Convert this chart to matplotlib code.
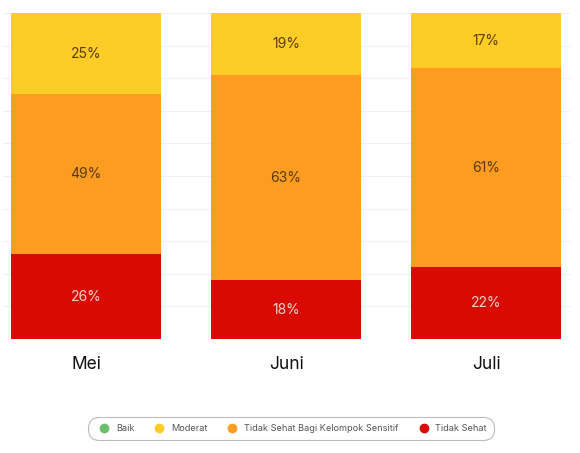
import matplotlib.pyplot as plt
from matplotlib.lines import Line2D
import numpy as np

plt.rcParams['font.family'] = ['Inter', 'DejaVu Sans']

# data
bulan = ['Mei', 'Juni', 'Juli']
kategori = ['Baik', 'Moderat', 'Tidak Sehat Bagi Kelompok Sensitif', 'Tidak Sehat']
baik = [0, 0, 0]
moderat = [25, 19, 17]
sensitif = [49, 63, 61]
tidak_sehat = [26, 18, 22]

warna = ['#6cbf6f', '#fecc27', '#fc9c21', '#d90a02']
warna_teks = [None, '#5b3a08', '#5b3a08', '#fbd0d0']

fig = plt.figure(figsize=(5.8, 4.53), dpi=100)
ax = fig.add_axes([3 / 580, 114 / 453, 567 / 580, 326 / 453])

x = np.arange(len(bulan))
lebar = 0.75
bawah = np.zeros(len(bulan))
for seri, c, tc in zip([tidak_sehat, sensitif, moderat, baik],
                       warna[::-1], warna_teks[::-1]):
    seri = np.array(seri, dtype=float)
    ax.bar(x, seri, lebar, bottom=bawah, color=c, linewidth=0, zorder=2)
    if tc is not None:
        for xi, b, v in zip(x, bawah, seri):
            if v > 0:
                ax.text(xi, b + v / 2, f'{int(v)}%', ha='center', va='center',
                        fontsize=10, color=tc, zorder=3)
    bawah += seri

ax.set_xlim(-0.415, 2.42)
ax.set_ylim(0, 100)
ax.set_yticks(np.arange(0, 101, 10))
ax.yaxis.grid(True, color='#f0f0f0', linewidth=0.8, zorder=0)
ax.tick_params(left=False, bottom=False, labelleft=False)
ax.set_xticks(x)
ax.set_xticklabels(bulan, fontsize=12.5, color='#111111')
ax.tick_params(axis='x', pad=9)
for s in ax.spines.values():
    s.set_visible(False)

handles = [Line2D([], [], marker='o', linestyle='none', markersize=6,
                  markerfacecolor=c, markeredgecolor=c) for c in warna]
leg = fig.legend(handles, kategori, loc='center', bbox_to_anchor=(291 / 580, 1 - 428.5 / 453),
                 ncol=4, fontsize=6.6, frameon=True, fancybox=True, edgecolor='#aaaaaa',
                 handletextpad=0.3, columnspacing=1.7, borderpad=0.8, labelcolor='#555555')
leg.get_frame().set_linewidth(0.8)
leg.get_frame().set_boxstyle('round', pad=0, rounding_size=1.2)

fig.savefig('out.png', dpi=100)
